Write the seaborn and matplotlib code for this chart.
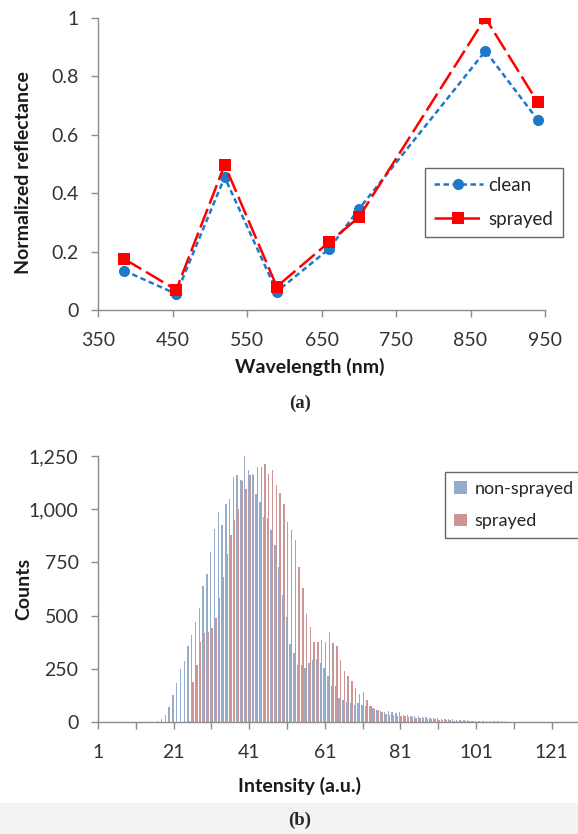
import pandas as pd
import matplotlib.pyplot as plt
import matplotlib.patches as mpatches
from matplotlib.ticker import FuncFormatter
import seaborn as sns

# ---- (a) reflectance data ----
wavelengths = [385, 455, 520, 590, 660, 700, 870, 940]
clean = [0.135, 0.055, 0.455, 0.063, 0.209, 0.345, 0.887, 0.652]
sprayed = [0.175, 0.069, 0.497, 0.080, 0.232, 0.317, 1.0, 0.712]

# ---- (b) intensity histogram data (bins 1..128) ----
intensity_bins = list(range(1, 129))
non_sprayed_counts = [
    0, 0, 0, 0, 0, 0, 0, 0, 0, 0,
    0, 0, 0, 0, 0, 0, 3, 15, 35, 70,
    125, 183, 250, 285, 358, 410, 470, 535, 640, 694,
    800, 905, 988, 927, 1023, 1048, 1152, 1160, 1136, 1250,
    1183, 1164, 1073, 1034, 964, 960, 900, 830, 730, 595,
    495, 367, 323, 269, 266, 253, 277, 292, 297, 277,
    253, 214, 167, 167, 113, 105, 92, 89, 81, 89,
    81, 73, 73, 66, 58, 53, 45, 53, 45, 42,
    45, 35, 32, 30, 28, 26, 24, 22, 20, 18,
    17, 15, 14, 13, 12, 11, 10, 9, 8, 7,
    6, 6, 5, 5, 4, 4, 3, 3, 3, 2,
    2, 2, 2, 1, 1, 1, 1, 1, 1, 1,
    0, 0, 0, 0, 0, 0, 0, 0,
]
sprayed_counts = [
    0, 0, 0, 0, 0, 0, 0, 0, 0, 0,
    0, 0, 0, 0, 0, 0, 0, 0, 0, 0,
    0, 0, 0, 0, 5, 190, 270, 378, 417, 425,
    440, 488, 581, 683, 789, 878, 948, 1003, 1131, 1097,
    1163, 1163, 1198, 1198, 1211, 1167, 1186, 1113, 1075, 1025,
    940, 903, 855, 730, 628, 506, 448, 378, 378, 386,
    378, 425, 370, 355, 292, 242, 214, 195, 160, 133,
    139, 105, 73, 61, 55, 45, 39, 34, 34, 30,
    28, 26, 24, 22, 20, 18, 17, 15, 14, 12,
    11, 10, 9, 8, 7, 6, 5, 4, 3, 3,
    2, 2, 2, 1, 1, 1, 1, 1, 1, 1,
    0, 0, 0, 0, 0, 0, 0, 0, 0, 0,
    0, 0, 0, 0, 0, 0, 0, 0,
]

sns.set_theme(style="white")
plt.rcParams["font.family"] = ["Lato", "DejaVu Sans"]

W, H = 578, 834
fig = plt.figure(figsize=(W / 100, H / 100), dpi=100)
fig.patches.append(
    mpatches.Rectangle((0, 0), 1, 1 - 803 / H, transform=fig.transFigure,
                       facecolor="#f3f3f3", edgecolor="none", zorder=-1)
)

axis_grey = "#8c8c8c"
label_col = "#1a1a1a"

# ---------------- (a) ----------------
ax1 = fig.add_axes([98 / W, 1 - 310 / H, (545 - 98) / W, (310 - 18) / H])
df_a = pd.DataFrame({
    "Wavelength": wavelengths * 2,
    "Reflectance": clean + sprayed,
    "Sample": ["clean"] * len(clean) + ["sprayed"] * len(sprayed),
})
sns.lineplot(
    data=df_a, x="Wavelength", y="Reflectance", hue="Sample", style="Sample",
    palette={"clean": "#1f78c8", "sprayed": "#ff0000"},
    markers={"clean": "o", "sprayed": "s"},
    dashes={"clean": (2.2, 1.4), "sprayed": (8, 2.2)},
    markersize=8, markeredgewidth=0, linewidth=1.8, ax=ax1,
)
ax1.set_xlim(350, 950)
ax1.set_ylim(0, 1)
ax1.set_xticks(range(350, 951, 100))
ax1.set_yticks([0, 0.2, 0.4, 0.6, 0.8, 1])
ax1.yaxis.set_major_formatter(FuncFormatter(lambda v, p: f"{v:g}"))
ax1.set_xlabel("Wavelength (nm)", fontsize=14, fontweight="bold", color=label_col)
ax1.set_ylabel("Normalized reflectance", fontsize=14, fontweight="bold", color=label_col)
leg1 = ax1.legend(loc="upper left", bbox_to_anchor=(0.71, 0.52), fontsize=13.5,
                  frameon=True, fancybox=False, edgecolor="#404040",
                  handlelength=2.6, handletextpad=0.3, labelspacing=0.9,
                  borderpad=0.5)
leg1.get_frame().set_linewidth(1.0)

# ---------------- (b) ----------------
ax2 = fig.add_axes([98 / W, 1 - 722 / H, (W - 98) / W, (722 - 456) / H])
df_b = pd.DataFrame({
    "Intensity": intensity_bins * 2,
    "Counts": non_sprayed_counts + sprayed_counts,
    "Sample": ["non-sprayed"] * len(intensity_bins) + ["sprayed"] * len(intensity_bins),
})
sns.barplot(
    data=df_b, x="Intensity", y="Counts", hue="Sample",
    palette={"non-sprayed": "#4f81bd", "sprayed": "#c0504d"},
    width=0.75, linewidth=0, alpha=0.65, ax=ax2,
)
ax2.set_xlim(0, 127)
ax2.set_ylim(0, 1250)
ax2.set_yticks(range(0, 1251, 250))
ax2.yaxis.set_major_formatter(FuncFormatter(lambda v, p: f"{v:,.0f}"))
ax2.set_xticks(range(0, 128, 10))
ax2.set_xticklabels([str(i + 1) if i % 20 == 0 else "" for i in range(0, 128, 10)])
ax2.set_xlabel("Intensity (a.u.)", fontsize=14, fontweight="bold", color=label_col)
ax2.set_ylabel("Counts", fontsize=14, fontweight="bold", color=label_col)
leg2 = ax2.legend(loc="upper left", bbox_to_anchor=(0.705, 0.974), fontsize=13,
                  frameon=True, fancybox=False, edgecolor="#404040",
                  handlelength=0.7, handleheight=0.7, handletextpad=0.4,
                  labelspacing=0.9, borderpad=0.5, title=None)
leg2.get_frame().set_linewidth(1.0)

for ax in (ax1, ax2):
    for side in ("top", "right"):
        ax.spines[side].set_visible(False)
    for side in ("left", "bottom"):
        ax.spines[side].set_color(axis_grey)
        ax.spines[side].set_linewidth(1.0)
    ax.tick_params(axis="both", which="major", direction="out", length=5,
                   width=1, color=axis_grey, labelsize=14, labelcolor="#333333",
                   bottom=True, left=True)
    ax.tick_params(axis="x", pad=11)
    ax.tick_params(axis="y", pad=9)

ax1.xaxis.set_label_coords((310 - 98) / (545 - 98), -0.165)
ax1.yaxis.set_label_coords(-(98 - 32) / (545 - 98), 0.47)
ax2.xaxis.set_label_coords((300 - 98) / (W - 98), -0.207)
ax2.yaxis.set_label_coords(-(98 - 32) / (W - 98), 0.5)

fig.text(300 / W, 1 - 403 / H, "(a)", ha="center", va="center",
         fontsize=13.5, fontweight="bold", family="Liberation Serif")
fig.text(300 / W, 1 - 820 / H, "(b)", ha="center", va="center",
         fontsize=13.5, fontweight="bold", family="Liberation Serif")

fig.savefig("out.png", dpi=100)
